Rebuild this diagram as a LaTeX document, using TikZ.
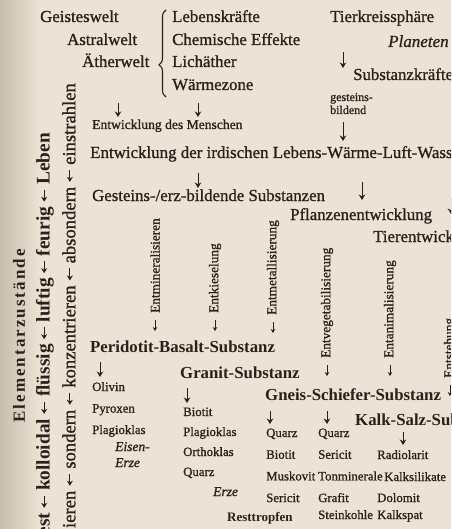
\documentclass[tikz,border=0pt]{standalone}
\usepackage{fontspec}
\setmainfont{Liberation Serif}
\newfontfamily\buch{Liberation Serif}[FakeBold=1.0]
\usetikzlibrary{arrows.meta, decorations.pathreplacing}

\definecolor{papier}{HTML}{EBE3D5}
\definecolor{papierrand}{HTML}{C9BEAE}
\definecolor{tinte}{HTML}{2B201B}

% Pfeil im senkrechten Text
\newcommand{\links}{\hspace{4.5pt}\tikz[baseline={(0pt,-5.5pt)}]\draw[tinte, line width=1.1pt, -{Stealth[length=5pt, width=6pt]}] (12pt,0pt) -- (0pt,0pt);\hspace{4.5pt}}

\begin{document}
\begin{tikzpicture}[x=1pt, y=-1pt,
    every node/.style={inner sep=0pt, text=tinte},
    gross/.style={anchor=base west, font=\buch\fontsize{16.8}{20}\selectfont},
    mittel/.style={anchor=base west, font=\buch\fontsize{13.6}{16}\selectfont},
    klein/.style={anchor=base west, font=\buch\fontsize{12}{14}\selectfont},
    liste/.style={anchor=base west, font=\buch\fontsize{12.8}{15}\selectfont},
    kursiv/.style={anchor=base west, font=\buch\itshape\fontsize{13.5}{15}\selectfont},
    fett/.style={anchor=base west, font=\bfseries\fontsize{16.8}{20}\selectfont},
    senkrecht/.style={rotate=90, anchor=west, font=\buch\fontsize{13.3}{16}\selectfont},
    pfeil/.style={draw=tinte, line width=1pt, -{Stealth[length=5.5pt, width=6.5pt]}},
    pfeilchen/.style={draw=tinte, line width=0.8pt, -{Stealth[length=4pt, width=4.5pt]}}]

    % Hintergrund
    \fill[papier] (0,0) rectangle (451,529);
    \shade[left color=papierrand, right color=papier] (0,0) rectangle (40,529);
    \useasboundingbox (0,0) rectangle (451,529);
    \clip (0,0) rectangle (451,529);

    % Welten und Kraefte
    \node[gross] (geist) at (40,22) {Geisteswelt};
    \node[gross] (astral) at (67,45) {Astralwelt};
    \node[gross] (aether) at (82,67) {Ätherwelt};
    \draw[tinte, line width=1.1pt, decorate, decoration={brace, amplitude=7pt, aspect=0.37}] (166,97) -- (166,10);
    \node[gross] (lebkr) at (172,22) {Lebenskräfte};
    \node[gross] (chem) at (172,45) {Chemische Effekte};
    \node[gross] (licht) at (172,67) {Lichäther};
    \node[gross] (waerme) at (172,90) {Wärmezone};
    \node[gross] (tierkr) at (330,22) {Tierkreissphäre};
    \node[gross, font=\buch\itshape\fontsize{17}{20}\selectfont] (planet) at (388,47) {Planeten};
    \node[gross] (substkr) at (353,80) {Substanzkräfte};
    \node[klein] (gest) at (330,101) {gesteins-};
    \node[klein] (bild) at (330,114) {bildend};
    \draw[pfeil] (343,52) -- (343,68);
    \draw[pfeil] (118,103) -- (118,117);
    \draw[pfeil] (198,103) -- (198,117);
    \draw[pfeil] (343,122) -- (343,141);

    % Entwicklung
    \node[mittel] (mensch) at (92,129) {Entwicklung des Menschen};
    \node[gross, font=\buch\fontsize{16.9}{20}\selectfont] (irdisch) at (90,158) {Entwicklung der irdischen Lebens-Wärme-Luft-Wasser};
    \draw[pfeil] (198,173) -- (198,188);
    \node[gross] (gestsub) at (92,201) {Gesteins-/erz-bildende Substanzen};
    \draw[pfeil] (362,182) -- (362,200);
    \node[gross] (pflanz) at (290,220) {Pflanzenentwicklung};
    \draw[pfeil] (451,198) -- (451,214);
    \node[gross] (tier) at (373,242) {Tierentwicklung};

    % Vorgaenge (senkrecht)
    \node[senkrecht] (entmin) at (155,313) {Entmineralisieren};
    \node[senkrecht] (entkies) at (215,313) {Entkieselung};
    \node[senkrecht] (entmet) at (273,315) {Entmetallisierung};
    \node[senkrecht] (entveg) at (327,358) {Entvegetabilisierung};
    \node[senkrecht] (entani) at (390,358) {Entanimalisierung};
    \node[senkrecht] (entst) at (450,378) {Entstehung};
    \foreach \x/\y in {155/320, 215/320, 273/322, 327/365, 390/365, 450/385}
        \draw[pfeilchen] (\x,\y) -- (\x,\y+11);

    % Substanzen
    \node[fett] (peri) at (90,352) {Peridotit-Basalt-Substanz};
    \draw[pfeil] (100,362) -- (100,377);
    \node[fett] (granit) at (180,378) {Granit-Substanz};
    \draw[pfeil] (187,388) -- (187,403);
    \node[fett] (gneis) at (265,400) {Gneis-Schiefer-Substanz};
    \draw[pfeil] (270,411) -- (270,424);
    \draw[pfeil] (327,411) -- (327,424);
    \node[fett] (kalk) at (355,425) {Kalk-Salz-Substanz};
    \draw[pfeil] (403,432) -- (403,445);

    % Minerale
    \foreach \m [count=\i] in {Olivin, Pyroxen, Plagioklas}
        \node[liste] (peri\i) at (92,391+21.5*\i-21.5) {\m};
    \node[kursiv] (eisen) at (115,451) {Eisen-};
    \node[kursiv] (erze1) at (115,467) {Erze};
    \foreach \m [count=\i] in {Biotit, Plagioklas, Orthoklas, Quarz}
        \node[liste] (gran\i) at (183,416+20*\i-20) {\m};
    \node[kursiv] (erze2) at (213,496) {Erze};
    \node[liste, font=\bfseries\fontsize{13}{15}\selectfont] (rest) at (227,521) {Resttropfen};
    \foreach \m [count=\i] in {Quarz, Biotit, Muskovit, Sericit}
        \node[liste] (gna\i) at (266,437+21.7*\i-21.7) {\m};
    \foreach \m [count=\i] in {Quarz, Sericit, Tonminerale, Grafit}
        \node[liste] (gnb\i) at (318,437+21.7*\i-21.7) {\m};
    \node[liste] (kohle) at (318,519) {Steinkohle};
    \node[liste] (radio) at (377,459) {Radiolarit};
    \node[liste] (silik) at (384,481) {Kalksilikate};
    \node[liste] (dolo) at (377,502) {Dolomit};
    \node[liste] (spat) at (377,519) {Kalkspat};

    % Elementarzustaende (links, senkrecht)
    \node[rotate=90, font=\bfseries\fontsize{17}{20}\selectfont\addfontfeature{LetterSpace=12}] (elem) at (19,336) {Elementarzustände};
    \node[rotate=90, anchor=east, font=\bfseries\fontsize{19.3}{20}\selectfont] (zustand) at (45,133) {fest\links kolloidal\links flüssig\links luftig\links feurig\links Leben};
    \node[rotate=90, anchor=east, font=\buch\fontsize{18.6}{20}\selectfont] (vorgang) at (69,83) {ieren\links sondern\links konzentrieren\links absondern\links einstrahlen};
\end{tikzpicture}
\end{document}
